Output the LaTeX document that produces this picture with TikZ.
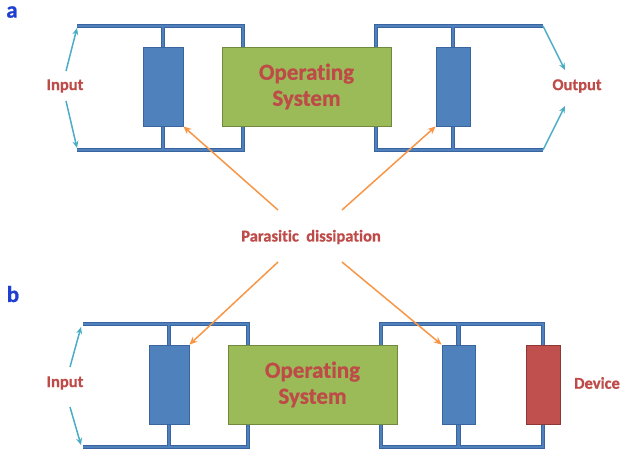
\documentclass[tikz,border=0pt]{standalone}
\usepackage{fontspec}
\setmainfont{Carlito}[Ligatures=NoCommon,BoldFeatures={FakeBold=0.8}]
\usetikzlibrary{arrows.meta,backgrounds}
\definecolor{boxblue}{HTML}{4F81BD}
\definecolor{boxblueD}{HTML}{3A64A0}
\definecolor{osgreen}{HTML}{9BBB59}
\definecolor{osgreenD}{HTML}{71893F}
\definecolor{devred}{HTML}{C0504D}
\definecolor{devredD}{HTML}{8C3836}
\definecolor{txtred}{HTML}{BE4B48}
\definecolor{orangeA}{HTML}{F79646}
\definecolor{tealA}{HTML}{4BACC6}
\definecolor{lblblue}{HTML}{1F3FD0}
\begin{document}
\begin{tikzpicture}[x=1pt,y=-1pt,
  wire/.style={draw=boxblueD,line width=4.6pt,line join=miter,
    postaction={draw=boxblue,line width=2.8pt}},
  elem/.style={line width=0.8pt,minimum height=79pt,inner sep=0pt},
  bbox/.style={elem,draw=boxblueD,fill=boxblue},
  rbox/.style={elem,draw=devredD,fill=devred},
  osbox/.style={elem,draw=osgreenD,fill=osgreen,minimum width=169pt,
    text=txtred,font=\fontsize{23}{26}\selectfont\bfseries,align=center},
  lbl/.style={text=txtred,font=\fontsize{16.5}{19}\selectfont\bfseries},
  panel/.style={text=lblblue,inner sep=1pt,font=\fontsize{23}{26}\selectfont\bfseries},
  teal/.style={draw=tealA,line width=1.5pt,-{Stealth[length=7pt,width=6pt]}},
  orng/.style={draw=orangeA,line width=1.5pt,-{Stealth[length=8pt,width=7pt]}}
]
\useasboundingbox (0,0) rectangle (623,458);

% ---------- panel a ----------
\node[panel] (la) at (12,12) {a};
\node[bbox,minimum width=40pt] (ra) at (163,86.5) {};
\node[osbox] (gA) at (306.5,86.5) {Operating\\System};
\node[bbox,minimum width=34pt] (rb) at (453,86.5) {};
\node[lbl] (inA) at (65,86) {Input};
\node[lbl] (outA) at (577,86) {Output};
\coordinate (a1tl) at (77,26);
\coordinate (a1tr) at (243,26);
\coordinate (a1bl) at (77,150);
\coordinate (a1br) at (243,150);
\coordinate (a2tl) at (376,26);
\coordinate (a2tr) at (543,26);
\coordinate (a2bl) at (376,150);
\coordinate (a2br) at (543,150);

% ---------- panel b ----------
\node[panel] (lb) at (13,294) {b};
\node[bbox,minimum width=40pt] (rc) at (169,384.5) {};
\node[osbox] (gB) at (312.5,384.5) {Operating\\System};
\node[bbox,minimum width=33pt] (rd) at (458.5,384.5) {};
\node[rbox,minimum width=34pt] (dev) at (543,384.5) {};
\node[lbl] (inB) at (65,383) {Input};
\node[lbl] (devT) at (597,383) {Device};
\coordinate (b1tl) at (83,324);
\coordinate (b1tr) at (248,324);
\coordinate (b1bl) at (83,447);
\coordinate (b1br) at (248,447);
\coordinate (b2tl) at (381,324);
\coordinate (b2bl) at (381,447);

\node[lbl] (pd) at (311,237) {Parasitic\ \ dissipation};

\begin{scope}[on background layer]
  \draw[wire] (a1tl) -- (a1tr) -- (a1tr |- gA.north)
              (a1bl) -- (a1br) -- (a1br |- gA.south)
              (ra.north) -- (ra.north |- a1tl)
              (ra.south) -- (ra.south |- a1bl);
  \draw[wire] (gA.north -| a2tl) -- (a2tl) -- (a2tr)
              (gA.south -| a2bl) -- (a2bl) -- (a2br)
              (rb.north) -- (rb.north |- a2tl)
              (rb.south) -- (rb.south |- a2bl);
  \draw[wire] (b1tl) -- (b1tr) -- (b1tr |- gB.north)
              (b1bl) -- (b1br) -- (b1br |- gB.south)
              (rc.north) -- (rc.north |- b1tl)
              (rc.south) -- (rc.south |- b1bl);
  \draw[wire] (gB.north -| b2tl) -- (b2tl) -- (dev.north |- b2tl) -- (dev.north)
              (gB.south -| b2bl) -- (b2bl) -- (dev.south |- b2bl) -- (dev.south)
              (rd.north) -- (rd.north |- b2tl)
              (rd.south) -- (rd.south |- b2bl);
\end{scope}

% input / output arrows
\draw[teal] ([xshift=1pt,yshift=15pt]inA.center) -- ([yshift=-2pt]a1tl);
\draw[teal] ([xshift=1pt,yshift=-15pt]inA.center) -- ([yshift=2pt]a1bl);
\draw[teal] (a2tr) -- ([xshift=-12pt,yshift=16pt]outA.center);
\draw[teal] (a2br) -- ([xshift=-12pt,yshift=-20pt]outA.center);
\draw[teal] ([xshift=5pt,yshift=16pt]inB.center) -- ([xshift=-2pt,yshift=-3pt]b1tl);
\draw[teal] ([xshift=5pt,yshift=-24pt]inB.center) -- ([xshift=-2pt,yshift=2pt]b1bl);

% parasitic dissipation arrows
\draw[orng] ([xshift=-33pt,yshift=27pt]pd.center) -- (ra.south east);
\draw[orng] ([xshift=31pt,yshift=27pt]pd.center) -- (rb.south west);
\draw[orng] ([xshift=-33pt,yshift=-25pt]pd.center) -- (rc.north east);
\draw[orng] ([xshift=31pt,yshift=-25pt]pd.center) -- (rd.north west);
\end{tikzpicture}
\end{document}
